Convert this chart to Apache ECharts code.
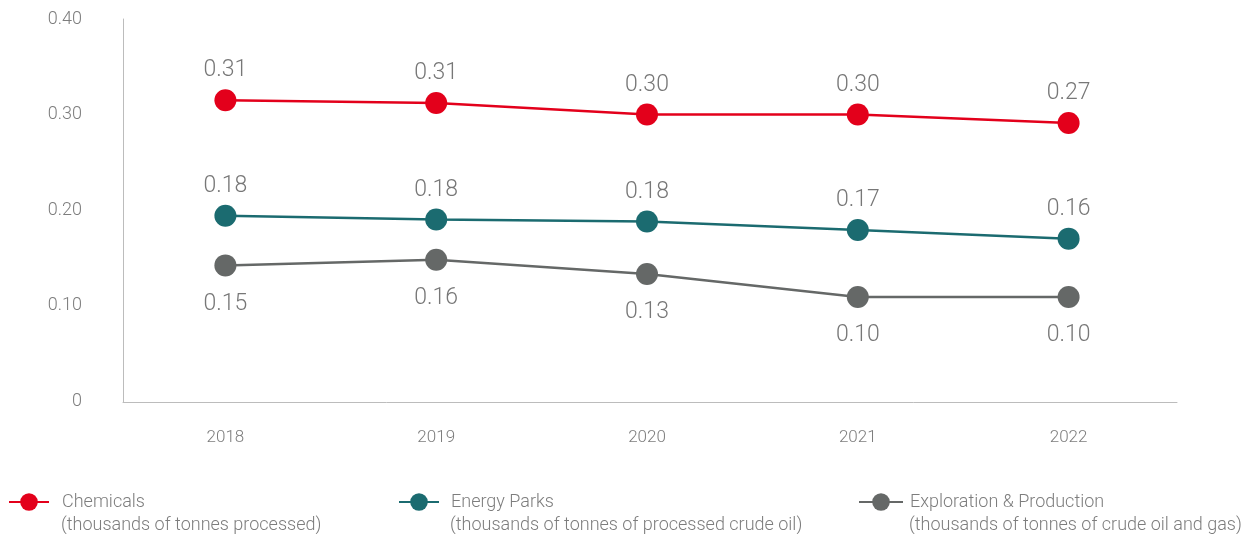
<!DOCTYPE html>
<html>
<head>
<meta charset="utf-8">
<script src="https://cdn.jsdelivr.net/npm/echarts@6/dist/echarts.min.js"></script>
<style>
html,body{margin:0;padding:0;background:#fff;}
#chart{width:1247px;height:534px;}
</style>
</head>
<body>
<div id="chart"></div>
<script>
const years = ['2018','2019','2020','2021','2022'];
const yTicks = [0, 0.1, 0.2, 0.3, 0.4];

const seriesNames = ['Chemicals', 'Energy Parks', 'Exploration & Production'];
const seriesSubtitles = [
  '(thousands of tonnes processed)',
  '(thousands of tonnes of processed crude oil)',
  '(thousands of tonnes of crude oil and gas)'
];

const chemicalsValues = [0.315, 0.312, 0.300, 0.300, 0.291];
const chemicalsLabels = ['0.31', '0.31', '0.30', '0.30', '0.27'];

const energyParksValues = [0.194, 0.190, 0.188, 0.179, 0.170];
const energyParksLabels = ['0.18', '0.18', '0.18', '0.17', '0.16'];

const explorationValues = [0.142, 0.148, 0.133, 0.109, 0.109];
const explorationLabels = ['0.15', '0.16', '0.13', '0.10', '0.10'];

const colors = ['#e3001b', '#1b6b70', '#656867'];
const FONT = 'Roboto, "DejaVu Sans", sans-serif';
const TEXT_COLOR = '#7d7d7d';

function makeSeries(name, values, labels, color, pos, dist) {
  return {
    name: name,
    type: 'line',
    data: values,
    symbol: 'circle',
    symbolSize: 22,
    itemStyle: { color: color },
    lineStyle: { color: color, width: 2.5 },
    label: {
      show: true,
      position: pos,
      distance: dist,
      color: '#777',
      fontSize: 23,
      fontWeight: 300,
      fontFamily: FONT,
      formatter: p => labels[p.dataIndex]
    },
    emphasis: { disabled: true },
    animation: false
  };
}

const legendLefts = [8, 398, 858];
const legendWidths = [40, 40, 44];
const legendTextPad = [8, 7, 2];

function makeLegend(i) {
  return {
    data: [seriesNames[i]],
    left: legendLefts[i],
    top: 493,
    padding: 0,
    itemWidth: legendWidths[i],
    itemHeight: 22,
    selectedMode: false,
    textStyle: {
      color: TEXT_COLOR,
      fontSize: 18,
      fontWeight: 300,
      fontFamily: FONT,
      padding: [9, 0, 0, legendTextPad[i]]
    }
  };
}

const subtitleGraphics = seriesSubtitles.map((s, i) => ({
  type: 'text',
  left: legendLefts[i] + legendWidths[i] + 5 + legendTextPad[i],
  top: 516,
  silent: true,
  style: {
    text: s,
    fill: TEXT_COLOR,
    fontSize: 18,
    fontWeight: 300,
    fontFamily: FONT
  }
}));

const chart = echarts.init(document.getElementById('chart'));
chart.setOption({
  backgroundColor: '#fff',
  grid: [
    { left: 120, right: 73, top: 19, bottom: 133, containLabel: false },
    { left: 123, right: 70, top: 19, bottom: 132, containLabel: false }
  ],
  xAxis: [
    {
      type: 'category',
      gridIndex: 0,
      data: years,
      boundaryGap: true,
      axisLine: { show: false },
      axisTick: { show: false },
      axisLabel: { color: TEXT_COLOR, fontSize: 17, fontWeight: 300, fontFamily: FONT, margin: 28 }
    },
    {
      type: 'category',
      gridIndex: 1,
      data: years,
      axisLine: { show: true, lineStyle: { color: '#bcbcbc', width: 1 } },
      axisTick: { show: false },
      axisLabel: { show: false }
    }
  ],
  yAxis: [
    {
      type: 'value',
      gridIndex: 0,
      min: 0,
      max: 0.4,
      interval: 0.1,
      axisLine: { show: false },
      axisTick: { show: false },
      splitLine: { show: false },
      axisLabel: {
        color: TEXT_COLOR, fontSize: 18, fontWeight: 300, fontFamily: FONT, margin: 38,
        formatter: v => {
          const t = yTicks.find(x => Math.abs(x - v) < 1e-9);
          return t === 0 ? '0' : (t !== undefined ? t.toFixed(2) : v.toFixed(2));
        }
      }
    },
    {
      type: 'value',
      gridIndex: 1,
      min: 0,
      max: 0.4,
      interval: 0.1,
      axisLine: { show: true, lineStyle: { color: '#bcbcbc', width: 1 } },
      axisTick: { show: false },
      splitLine: { show: false },
      axisLabel: { show: false }
    }
  ],
  legend: [makeLegend(0), makeLegend(1), makeLegend(2)],
  graphic: subtitleGraphics,
  series: [
    makeSeries(seriesNames[0], chemicalsValues, chemicalsLabels, colors[0], 'top', 7),
    makeSeries(seriesNames[1], energyParksValues, energyParksLabels, colors[1], 'top', 7),
    makeSeries(seriesNames[2], explorationValues, explorationLabels, colors[2], 'bottom', 16)
  ]
});
</script>
</body>
</html>
